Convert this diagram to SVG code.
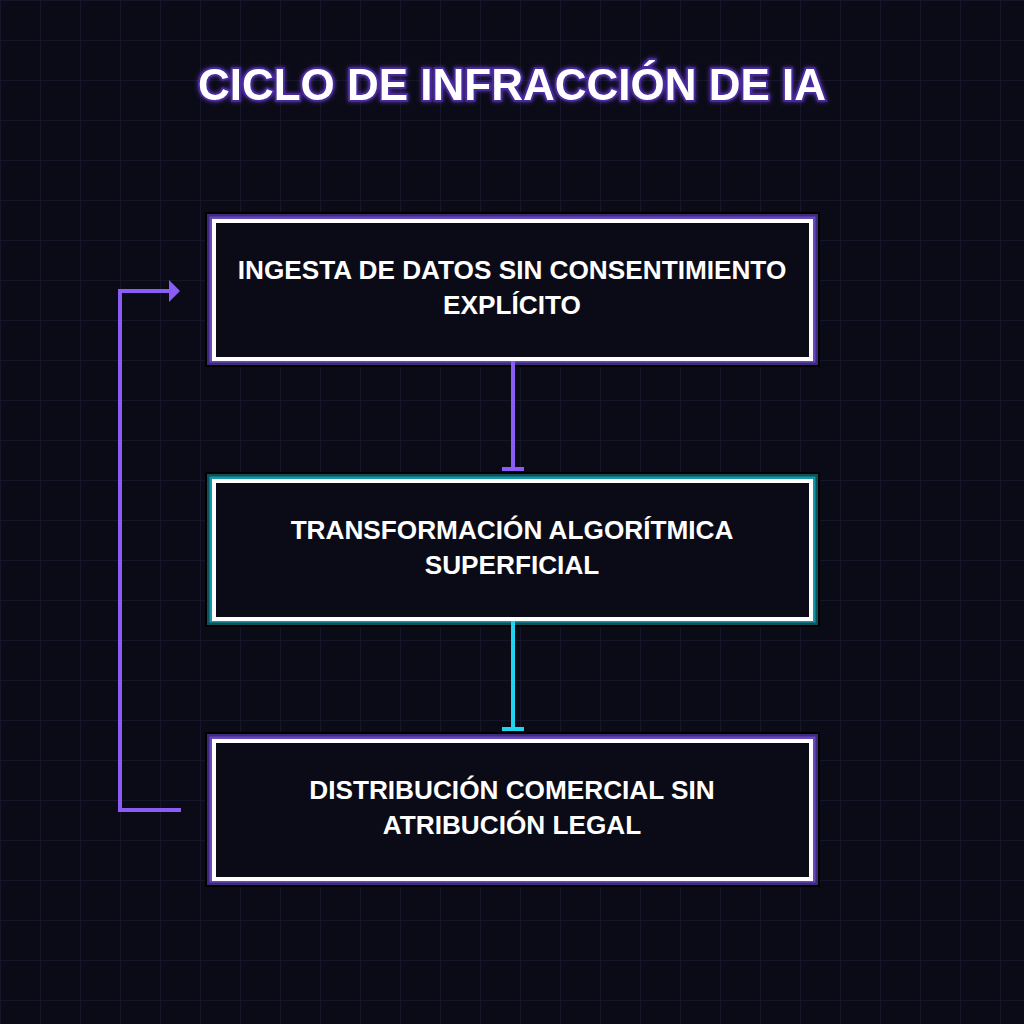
<svg xmlns="http://www.w3.org/2000/svg" width="1024" height="1024" viewBox="0 0 1024 1024">
  <defs>
    <pattern id="grid" width="40" height="40" patternUnits="userSpaceOnUse">
      <path d="M40 0 L0 0 L0 40" fill="none" stroke="#16162a" stroke-width="2"/>
    </pattern>
    <filter id="glow" x="-10%" y="-50%" width="120%" height="200%">
      <feGaussianBlur in="SourceAlpha" stdDeviation="2" result="b"/>
      <feFlood flood-color="#6d3fe0" flood-opacity="0.8"/>
      <feComposite in2="b" operator="in" result="g"/>
      <feMerge><feMergeNode in="g"/><feMergeNode in="SourceGraphic"/></feMerge>
    </filter>
    <marker id="tee-p" viewBox="0 0 4 22" markerWidth="4" markerHeight="22" refX="2" refY="11" orient="auto" markerUnits="userSpaceOnUse">
      <rect x="0" y="0" width="4" height="22" fill="#8b5cf6"/>
    </marker>
    <marker id="tee-c" viewBox="0 0 4 22" markerWidth="4" markerHeight="22" refX="2" refY="11" orient="auto" markerUnits="userSpaceOnUse">
      <rect x="0" y="0" width="4" height="22" fill="#22d3ee"/>
    </marker>
    <marker id="arr" viewBox="0 0 11 22" markerWidth="11" markerHeight="22" refX="1" refY="11" orient="auto" markerUnits="userSpaceOnUse">
      <path d="M0 0 L11 11 L0 22 Z" fill="#8b5cf6"/>
    </marker>
  </defs>
  <style>
    .title { font-family: "Liberation Sans", Arial, sans-serif; font-weight: bold; font-size: 44px; fill: #ffffff; stroke: #4b2a9e; stroke-width: 3.5px; paint-order: stroke; text-anchor: middle; }
    .lbl { font-family: "Liberation Sans", Arial, sans-serif; font-weight: bold; font-size: 26.2px; fill: #ffffff; text-anchor: middle; }
    .inner { fill: #0b0b18; stroke: #ffffff; stroke-width: 4; }
    .sh { fill: #000000; }
    .p1 { fill: #3d2a7a; }
    .p2 { fill: #6a48c0; }
    .c1 { fill: #0e4f5a; }
    .c2 { fill: #1597a8; }
    .conn { fill: none; stroke-width: 4; }
  </style>
  <rect width="1024" height="1024" fill="#0b0b18"/>
  <rect width="1024" height="1024" fill="url(#grid)"/>

  <text class="title" x="512" y="100" filter="url(#glow)">CICLO DE INFRACCIÓN DE IA</text>

  <g id="node1">
    <rect class="sh" x="205" y="212" width="615" height="155"/>
    <rect class="p1" x="207" y="214" width="611" height="151"/>
    <rect class="p2" x="209.5" y="216.5" width="606" height="146"/>
    <rect class="inner" x="214" y="221" width="597" height="138"/>
    <text class="lbl" x="512" y="279">INGESTA DE DATOS SIN CONSENTIMIENTO</text>
    <text class="lbl" x="512" y="314">EXPLÍCITO</text>
  </g>

  <g id="node2">
    <rect class="sh" x="205" y="472" width="615" height="155"/>
    <rect class="c1" x="207" y="474" width="611" height="151"/>
    <rect class="c2" x="209.5" y="476.5" width="606" height="146"/>
    <rect class="inner" x="214" y="481" width="597" height="138"/>
    <text class="lbl" x="512" y="539">TRANSFORMACIÓN ALGORÍTMICA</text>
    <text class="lbl" x="512" y="574">SUPERFICIAL</text>
  </g>

  <g id="node3">
    <rect class="sh" x="205" y="732" width="615" height="155"/>
    <rect class="p1" x="207" y="734" width="611" height="151"/>
    <rect class="p2" x="209.5" y="736.5" width="606" height="146"/>
    <rect class="inner" x="214" y="741" width="597" height="138"/>
    <text class="lbl" x="512" y="799">DISTRIBUCIÓN COMERCIAL SIN</text>
    <text class="lbl" x="512" y="834">ATRIBUCIÓN LEGAL</text>
  </g>

  <g id="connectors">
    <line class="conn" stroke="#8b5cf6" x1="513" y1="361" x2="513" y2="469" marker-end="url(#tee-p)"/>
    <line class="conn" stroke="#22d3ee" x1="513" y1="621" x2="513" y2="729" marker-end="url(#tee-c)"/>
    <path class="conn" stroke="#8b5cf6" d="M181 810 L120 810 L120 291 L170 291" marker-end="url(#arr)"/>
  </g>
</svg>
